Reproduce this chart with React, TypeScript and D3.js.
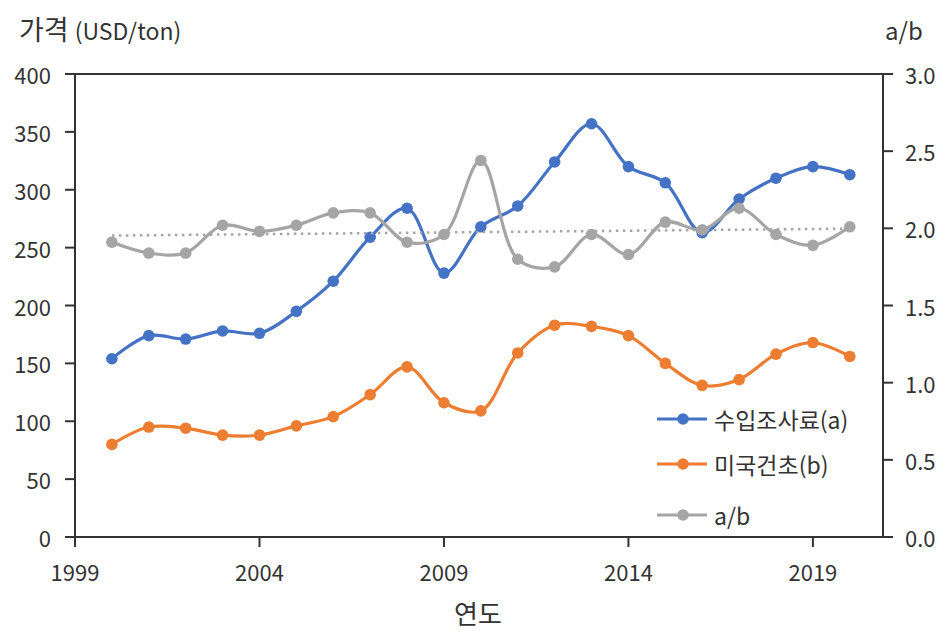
import React, { useMemo } from 'react'
import * as d3 from 'd3'

const years = [2000, 2001, 2002, 2003, 2004, 2005, 2006, 2007, 2008, 2009, 2010, 2011, 2012, 2013, 2014, 2015, 2016, 2017, 2018, 2019, 2020]
const importedForage = [154, 174, 171, 178, 176, 195, 221, 259, 284, 228, 268, 286, 324, 357, 320, 306, 263, 292, 310, 320, 313]
const usHay = [80, 95, 94, 88, 88, 96, 104, 123, 147, 116, 109, 159, 183, 182, 174, 150, 131, 136, 158, 168, 156]
const ratio = [1.91, 1.84, 1.84, 2.02, 1.98, 2.02, 2.1, 2.1, 1.91, 1.96, 2.44, 1.8, 1.75, 1.96, 1.83, 2.04, 1.99, 2.13, 1.96, 1.89, 2.01]
const ratioTrend = [1.953, 1.998]

const xTickYears = [1999, 2004, 2009, 2014, 2019]
const leftTicks = [0, 50, 100, 150, 200, 250, 300, 350, 400]
const rightTicks = [0, 0.5, 1, 1.5, 2, 2.5, 3]

const seriesNames = ['수입조사료(a)', '미국건초(b)', 'a/b']
const colors = ['#4472C4', '#ED7D31', '#A5A5A5']

const FONT = '"Noto Sans CJK KR", "Noto Sans", sans-serif'
const AXIS = '#333'

export default function App() {
  const width = 943
  const height = 636
  const plot = { left: 75, right: 883, top: 74, bottom: 537 }

  const chart = useMemo(() => {
    const x = d3.scaleLinear().domain([1999, 2020.9]).range([plot.left, plot.right])
    const yL = d3.scaleLinear().domain([0, 400]).range([plot.bottom, plot.top])
    const yR = d3.scaleLinear().domain([0, 3]).range([plot.bottom, plot.top])
    const curve = d3.curveCatmullRom.alpha(0.5)
    const lineL = d3.line<number>().x((_, i) => x(years[i])).y(v => yL(v)).curve(curve)
    const lineR = d3.line<number>().x((_, i) => x(years[i])).y(v => yR(v)).curve(curve)
    return {
      x, yL, yR,
      blue: lineL(importedForage),
      orange: lineL(usHay),
      gray: lineR(ratio)
    }
  }, [])

  const { x, yL, yR } = chart
  const legendRows = [419, 464, 515]

  return (
    <svg width={width} height={height} style={{ position: 'absolute', left: 0, top: 0, background: '#fff' }} fontFamily={FONT}>
      {/* axis titles */}
      <text x={19} y={40} fontSize={27} fill="#333">가격 <tspan fontSize={23}>(USD/ton)</tspan></text>
      <text x={904} y={40} fontSize={24} fill="#333" textAnchor="middle">a/b</text>
      <text x={478} y={624} fontSize={26} fill="#333" textAnchor="middle">연도</text>

      {/* frame & axes */}
      <line x1={plot.left} x2={plot.right} y1={plot.top} y2={plot.top} stroke={AXIS} strokeWidth={2} />
      <line x1={plot.left} x2={plot.left} y1={plot.top} y2={plot.bottom} stroke={AXIS} strokeWidth={2} />
      <line x1={plot.right} x2={plot.right} y1={plot.top} y2={plot.bottom} stroke={AXIS} strokeWidth={2} />
      <line x1={plot.left} x2={plot.right} y1={plot.bottom} y2={plot.bottom} stroke={AXIS} strokeWidth={2} />

      {leftTicks.map(t => (
        <g key={`l${t}`}>
          <line x1={plot.left - 10} x2={plot.left} y1={yL(t)} y2={yL(t)} stroke={AXIS} strokeWidth={2} />
          <text x={51} y={yL(t)} fontSize={22} fill="#333" textAnchor="end" dominantBaseline="central">{t}</text>
        </g>
      ))}
      {rightTicks.map(t => (
        <g key={`r${t}`}>
          <line x1={plot.right} x2={plot.right + 10} y1={yR(t)} y2={yR(t)} stroke={AXIS} strokeWidth={2} />
          <text x={905} y={yR(t)} fontSize={22} fill="#333" dominantBaseline="central">{t.toFixed(1)}</text>
        </g>
      ))}
      {xTickYears.map(t => (
        <g key={`x${t}`}>
          <line x1={x(t)} x2={x(t)} y1={plot.bottom} y2={plot.bottom + 10} stroke={AXIS} strokeWidth={2} />
          <text x={x(t)} y={571} fontSize={22} fill="#333" textAnchor="middle" dominantBaseline="central">{t}</text>
        </g>
      ))}

      {/* series */}
      <path d={chart.blue ?? ''} fill="none" stroke={colors[0]} strokeWidth={3.2} />
      {importedForage.map((v, i) => <circle key={`b${i}`} cx={x(years[i])} cy={yL(v)} r={5.8} fill={colors[0]} />)}
      <path d={chart.orange ?? ''} fill="none" stroke={colors[1]} strokeWidth={3.2} />
      {usHay.map((v, i) => <circle key={`o${i}`} cx={x(years[i])} cy={yL(v)} r={5.8} fill={colors[1]} />)}
      <line
        x1={x(years[0])} x2={x(years[years.length - 1])}
        y1={yR(ratioTrend[0])} y2={yR(ratioTrend[1])}
        stroke={colors[2]} strokeWidth={2.5} strokeDasharray="2.5 4.5"
      />
      <path d={chart.gray ?? ''} fill="none" stroke={colors[2]} strokeWidth={3.2} />
      {ratio.map((v, i) => <circle key={`g${i}`} cx={x(years[i])} cy={yR(v)} r={5.8} fill={colors[2]} />)}

      {/* legend */}
      {seriesNames.map((name, i) => (
        <g key={name} transform={`translate(0,${legendRows[i]})`}>
          <line x1={657} x2={707} y1={0} y2={0} stroke={colors[i]} strokeWidth={3.2} />
          <circle cx={683} cy={0} r={5.8} fill={colors[i]} />
          <text x={714} y={0} fontSize={23} fill="#333" dominantBaseline="central">{name}</text>
        </g>
      ))}
    </svg>
  )
}
